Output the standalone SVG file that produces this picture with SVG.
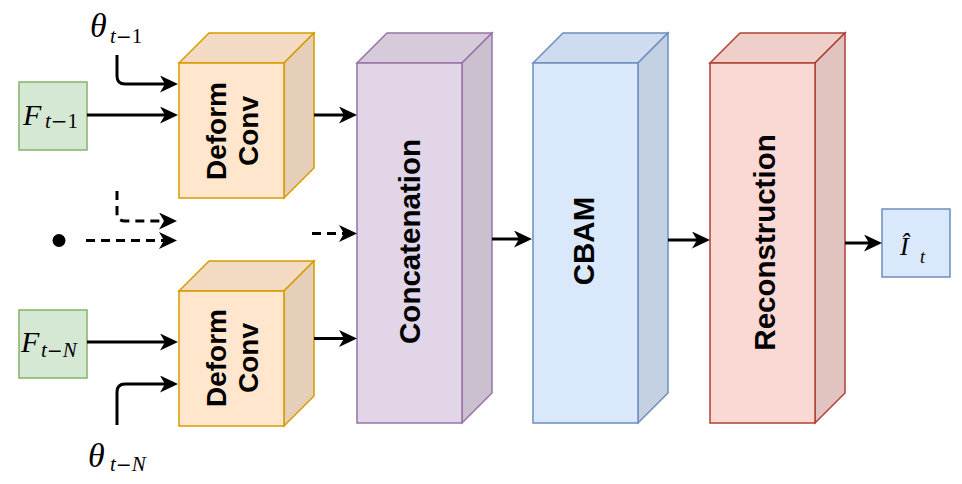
<svg xmlns="http://www.w3.org/2000/svg" width="962" height="484" viewBox="0 0 962 484">
<style>
.lbl{font-family:"Liberation Sans",Arial,sans-serif;font-weight:bold;fill:#000;text-anchor:middle}
.big{font-size:29.5px}
.dc{font-size:28px}
.mi{font-family:"Liberation Serif","Times New Roman",serif;font-style:italic;fill:#000}
.up{font-style:normal}
.mo{font-family:"DejaVu Sans",sans-serif;font-style:normal}
.edge{fill:none;stroke:#000;stroke-width:3}
.dash{stroke-dasharray:9 6}
.sw{stroke-width:1.5}
</style>
<defs>
<marker id="arr" viewBox="0 0 18 17" refX="5" refY="8.5" markerWidth="18" markerHeight="17" markerUnits="userSpaceOnUse" orient="auto">
<path d="M0,0 L18,8.5 L0,17 L5,8.5 Z" fill="#000"/>
</marker>
</defs>

<g id="F1">
<rect x="19" y="82" width="68" height="68" fill="#d5e8d4" stroke="#82b366" class="sw"/>
<text x="23" y="125" class="mi" font-size="30">F</text>
<text x="45" y="128" class="mi" font-size="21">t<tspan class="mo" font-size="20">−</tspan><tspan class="up">1</tspan></text>
</g>

<g id="FN">
<rect x="19" y="310" width="68" height="68" fill="#d5e8d4" stroke="#82b366" class="sw"/>
<text x="21" y="352" class="mi" font-size="30">F</text>
<text x="41" y="357" class="mi" font-size="21">t<tspan class="mo" font-size="19">−</tspan><tspan>N</tspan></text>
</g>

<g id="theta1">
<text x="90" y="37" class="mi" font-size="34">θ</text>
<text x="110" y="42.5" class="mi" font-size="21">t<tspan class="mo" font-size="19">−</tspan><tspan class="up">1</tspan></text>
</g>

<g id="thetaN">
<text x="88" y="467" class="mi" font-size="34">θ</text>
<text x="110" y="471" class="mi" font-size="21">t<tspan class="mo" font-size="19">−</tspan><tspan>N</tspan></text>
</g>

<g id="dot">
<circle cx="59" cy="240.5" r="6.5" fill="#000"/>
</g>

<g id="deform1">
<polygon points="179,63 209,33 314,33 284,63" fill="#f2dbc2" stroke="#d79b00" class="sw"/>
<polygon points="284,63 314,33 314,168 284,198" fill="#e6cfb8" stroke="#d79b00" class="sw"/>
<rect x="179" y="63" width="105" height="135" fill="#ffe6cc" stroke="#d79b00" class="sw"/>
<text class="lbl dc" transform="translate(226,131) rotate(-90)">Deform</text>
<text class="lbl dc" transform="translate(258,131) rotate(-90)">Conv</text>
</g>

<g id="deform2">
<polygon points="179,291 209,261 314,261 284,291" fill="#f2dbc2" stroke="#d79b00" class="sw"/>
<polygon points="284,291 314,261 314,396 284,426" fill="#e6cfb8" stroke="#d79b00" class="sw"/>
<rect x="179" y="291" width="105" height="135" fill="#ffe6cc" stroke="#d79b00" class="sw"/>
<text class="lbl dc" transform="translate(226,358) rotate(-90)">Deform</text>
<text class="lbl dc" transform="translate(258,358) rotate(-90)">Conv</text>
</g>

<g id="concat">
<polygon points="357,63 387,33 492,33 462,63" fill="#d6cadb" stroke="#9673a6" class="sw"/>
<polygon points="462,63 492,33 492,393 462,423" fill="#cbc0d0" stroke="#9673a6" class="sw"/>
<rect x="357" y="63" width="105" height="360" fill="#e1d5e7" stroke="#9673a6" class="sw"/>
<text class="lbl big" transform="translate(419.5,241.5) rotate(-90)">Concatenation</text>
</g>

<g id="cbam">
<polygon points="533,63 563,33 668,33 638,63" fill="#cfdcef" stroke="#6c8ebf" class="sw"/>
<polygon points="638,63 668,33 668,393 638,423" fill="#c4d1e3" stroke="#6c8ebf" class="sw"/>
<rect x="533" y="63" width="105" height="360" fill="#dae8fc" stroke="#6c8ebf" class="sw"/>
<text class="lbl big" transform="translate(593.5,241) rotate(-90)">CBAM</text>
</g>

<g id="recon">
<polygon points="710,63 740,33 845,33 815,63" fill="#eecfca" stroke="#ae4132" class="sw"/>
<polygon points="815,63 845,33 845,393 815,423" fill="#e1c3c0" stroke="#ae4132" class="sw"/>
<rect x="710" y="63" width="105" height="360" fill="#fad9d5" stroke="#ae4132" class="sw"/>
<text class="lbl big" transform="translate(775,242.5) rotate(-90)">Reconstruction</text>
</g>

<g id="output">
<rect x="882" y="209" width="68" height="68" fill="#dae8fc" stroke="#6c8ebf" class="sw"/>
<text x="900" y="255" class="mi" font-size="26">Î</text>
<text x="920" y="263" class="mi" font-size="18">t</text>
</g>

<g id="connectors">
<path class="edge" d="M117,55 V76 Q117,84 125,84 H165" marker-end="url(#arr)"/>
<path class="edge" d="M87,115 H165" marker-end="url(#arr)"/>
<path class="edge" d="M314,115 H344" marker-end="url(#arr)"/>
<path class="edge dash" d="M117,191 V213 Q117,221 125,221 H164" marker-end="url(#arr)"/>
<path class="edge dash" d="M86,240.5 H164" marker-end="url(#arr)"/>
<path class="edge dash" d="M312,233.5 H344" marker-end="url(#arr)"/>
<path class="edge" d="M87,342 H165" marker-end="url(#arr)"/>
<path class="edge" d="M117,425 V392 Q117,384 125,384 H165" marker-end="url(#arr)"/>
<path class="edge" d="M314,338.5 H344" marker-end="url(#arr)"/>
<path class="edge" d="M492,239 H519" marker-end="url(#arr)"/>
<path class="edge" d="M668,240 H697" marker-end="url(#arr)"/>
<path class="edge" d="M845,243 H869" marker-end="url(#arr)"/>
</g>
</svg>
